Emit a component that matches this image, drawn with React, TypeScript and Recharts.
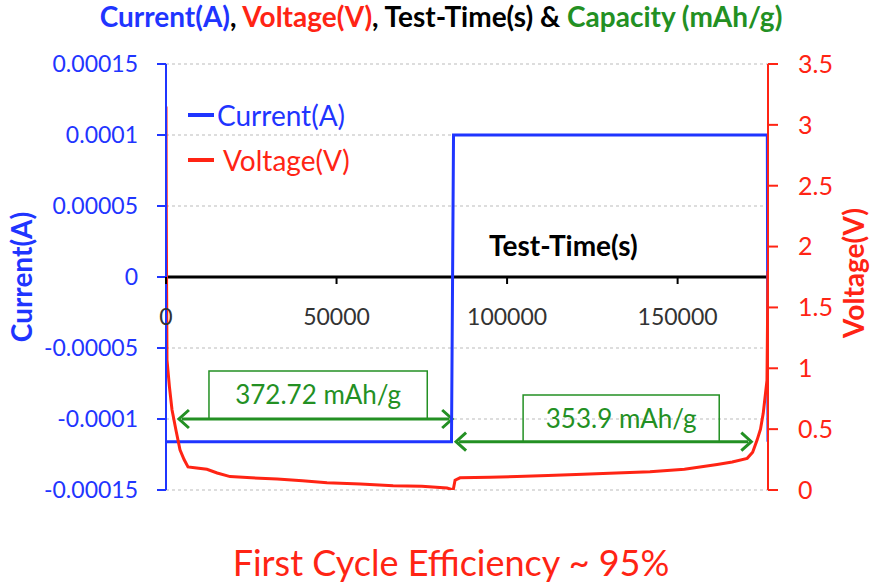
import React from 'react';
import {
  ComposedChart,
  Line,
  XAxis,
  YAxis,
  CartesianGrid,
  ReferenceLine,
  ReferenceDot,
  ReferenceArea,
} from 'recharts';

const BLUE = '#1f35ff';
const RED = '#ff2414';
const GREEN = '#239023';
const FONT = 'Lato, "Open Sans", sans-serif';

// test time (s) / current (A)
const currentTime = [0, 83700, 84300, 176300, 176500];
const currentValue = [-0.000116, -0.000116, 0.0001, 0.0001, -0.000116];

// test time (s) / voltage (V)
const voltageTime = [
  0, 60, 150, 290, 1000, 1760, 3000, 4100, 5300, 6450, 9000, 12000, 15000, 18800, 25000, 32600,
  40000, 47200, 57000, 66600, 75000, 82400, 84200, 84750, 86200, 95000, 102900, 112000, 122300,
  132000, 141900, 152000, 161600, 166000, 170400, 172000, 173300, 174300, 175100, 176200, 176500,
];
const voltageValue = [
  3.15, 2.4, 1.8, 1.07, 0.85, 0.66, 0.48, 0.33, 0.25, 0.19, 0.18, 0.17, 0.14, 0.11, 0.1, 0.09,
  0.075, 0.06, 0.05, 0.035, 0.03, 0.016, 0.0, 0.08, 0.1, 0.105, 0.11, 0.12, 0.13, 0.14, 0.15,
  0.17, 0.21, 0.23, 0.26, 0.31, 0.41, 0.5, 0.63, 0.9, 1.8,
];

const xTicks = [0, 50000, 100000, 150000];
const currentTicks = [-0.00015, -0.0001, -0.00005, 0, 0.00005, 0.0001, 0.00015];
const voltageTicks = [0, 0.5, 1, 1.5, 2, 2.5, 3, 3.5];

// capacity annotations: arrow span, arrow level, box span, box top
const capacityLabels = ['372.72 mAh/g', '353.9 mAh/g'];
const arrowFrom = [3500, 84750];
const arrowTo = [84200, 171900];
const arrowLevel = [-0.0001, -0.000116];
const boxFrom = [12600, 104700];
const boxTo = [76600, 162200];
const boxTop = [-0.0000662, -0.0000831];

const xTitleAt = 116500;

const currentData = currentTime.map((t, i) => ({ t, a: currentValue[i] }));
const voltageData = voltageTime.map((t, i) => ({ t, v: voltageValue[i] }));

function Arrow(props: any) {
  const { x1, y1, x2, y2 } = props;
  const h = 9;
  return (
    <g>
      <line x1={x1 + 4} y1={y1} x2={x2 - 4} y2={y2} stroke={GREEN} strokeWidth={3} />
      <path d={`M${x1 + h + 2},${y1 - h} L${x1 + 1},${y1} L${x1 + h + 2},${y1 + h}`} fill="none" stroke={GREEN} strokeWidth={3} />
      <path d={`M${x2 - h - 2},${y2 - h} L${x2 - 1},${y2} L${x2 - h - 2},${y2 + h}`} fill="none" stroke={GREEN} strokeWidth={3} />
    </g>
  );
}

function XTick(props: any) {
  const { cx, cy, payload } = props;
  return (
    <g>
      <line x1={cx} y1={cy} x2={cx} y2={cy + 7} stroke="#000" strokeWidth={2} />
      <text x={cx} y={cy + 48} textAnchor="middle" fontSize={23} fill="#333" fontFamily={FONT}>
        {payload}
      </text>
    </g>
  );
}

function LegendBox() {
  const items = [
    { name: 'Current(A)', color: BLUE, gap: 3 },
    { name: 'Voltage(V)', color: RED, gap: 9 },
  ];
  return (
    <div style={{ position: 'absolute', left: 188, top: 92, fontFamily: FONT }}>
      {items.map((it) => (
        <div key={it.name} style={{ display: 'flex', alignItems: 'center', height: 45 }}>
          <div style={{ width: 26, height: 4, background: it.color, marginRight: it.gap }} />
          <span style={{ color: it.color, fontSize: 28 }}>{it.name}</span>
        </div>
      ))}
    </div>
  );
}

export default function App() {
  return (
    <div style={{ position: 'absolute', left: 0, top: 0, width: 872, height: 585, background: '#fff', fontFamily: FONT }}>
      <div style={{ position: 'absolute', left: 0, width: 882, top: -1, textAlign: 'center', fontSize: 28, fontWeight: 700 }}>
        <span style={{ color: BLUE }}>Current(A)</span>, <span style={{ color: RED }}>Voltage(V)</span>, Test-Time(s) &amp;{' '}
        <span style={{ color: GREEN }}>Capacity (mAh/g)</span>
      </div>
      <ComposedChart width={872} height={585} margin={{ top: 64, right: 0, bottom: 95, left: 0 }}>
        <CartesianGrid yAxisId="left" vertical={false} stroke="#bbb" strokeDasharray="3 3" />
        <XAxis type="number" dataKey="t" domain={[0, 176500]} ticks={xTicks} hide allowDataOverflow />
        <YAxis
          yAxisId="left"
          width={166}
          domain={[-0.00015, 0.00015]}
          ticks={currentTicks}
          allowDataOverflow
          axisLine={{ stroke: BLUE, strokeWidth: 2 }}
          tickLine={{ stroke: BLUE, strokeWidth: 2 }}
          tickSize={9}
          tickMargin={19}
          tick={{ fill: BLUE, fontSize: 23, fontFamily: FONT }}
          tickFormatter={(v: number) => String(v)}
          label={(p: any) => {
            const vb = p.viewBox;
            const x = vb.x + 32;
            const y = vb.y + vb.height / 2;
            return (
              <text
                x={x}
                y={y}
                transform={`rotate(-90 ${x} ${y})`}
                textAnchor="middle"
                fill={BLUE}
                fontSize={28}
                fontWeight={700}
                fontFamily={FONT}
              >
                Current(A)
              </text>
            );
          }}
        />
        <YAxis
          yAxisId="right"
          orientation="right"
          width={104}
          domain={[0, 3.5]}
          ticks={voltageTicks}
          allowDataOverflow
          axisLine={{ stroke: RED, strokeWidth: 2 }}
          tickLine={{ stroke: RED, strokeWidth: 2 }}
          tickSize={10}
          tickMargin={20}
          tick={{ fill: RED, fontSize: 25, fontFamily: FONT, textAnchor: 'start' }}
          label={(p: any) => {
            const vb = p.viewBox;
            const x = vb.x + vb.width - 8;
            const y = vb.y + vb.height / 2 - 4;
            return (
              <text
                x={x}
                y={y}
                transform={`rotate(-90 ${x} ${y})`}
                textAnchor="middle"
                fill={RED}
                fontSize={28}
                fontWeight={700}
                fontFamily={FONT}
              >
                Voltage(V)
              </text>
            );
          }}
        />
        <ReferenceLine yAxisId="left" y={0} stroke="#000" strokeWidth={3} />
        {xTicks.map((t) => (
          <ReferenceDot key={t} yAxisId="left" x={t} y={0} r={0} shape={(p: any) => <XTick {...p} payload={t} />} />
        ))}
        <ReferenceDot
          yAxisId="left"
          x={xTitleAt}
          y={0}
          r={0}
          shape={(p: any) => (
            <text x={p.cx} y={p.cy - 21} textAnchor="middle" fontSize={28} fontWeight={700} fill="#000" fontFamily={FONT}>
              Test-Time(s)
            </text>
          )}
        />
        {capacityLabels.map((lab, i) => (
          <ReferenceArea
            key={lab}
            yAxisId="left"
            x1={boxFrom[i]}
            x2={boxTo[i]}
            y1={arrowLevel[i]}
            y2={boxTop[i]}
            fill="none"
            fillOpacity={0}
            stroke={GREEN}
            strokeWidth={1.5}
            label={{ value: lab, position: 'center', fill: GREEN, fontSize: 26, fontFamily: FONT }}
          />
        ))}
        {capacityLabels.map((lab, i) => (
          <ReferenceLine
            key={'a' + lab}
            yAxisId="left"
            segment={[
              { x: arrowFrom[i], y: arrowLevel[i] },
              { x: arrowTo[i], y: arrowLevel[i] },
            ]}
            shape={(p: any) => <Arrow {...p} />}
          />
        ))}
        <Line
          yAxisId="left"
          data={currentData}
          dataKey="a"
          type="linear"
          stroke={BLUE}
          strokeWidth={3}
          dot={false}
          isAnimationActive={false}
        />
        <Line
          yAxisId="right"
          data={voltageData}
          dataKey="v"
          type="linear"
          stroke={RED}
          strokeWidth={3}
          dot={false}
          isAnimationActive={false}
        />
      </ComposedChart>
      <LegendBox />
      <div style={{ position: 'absolute', left: 0, width: 902, top: 540, textAlign: 'center', fontSize: 36, color: RED }}>
        First Cycle Efficiency ~ 95%
      </div>
    </div>
  );
}
